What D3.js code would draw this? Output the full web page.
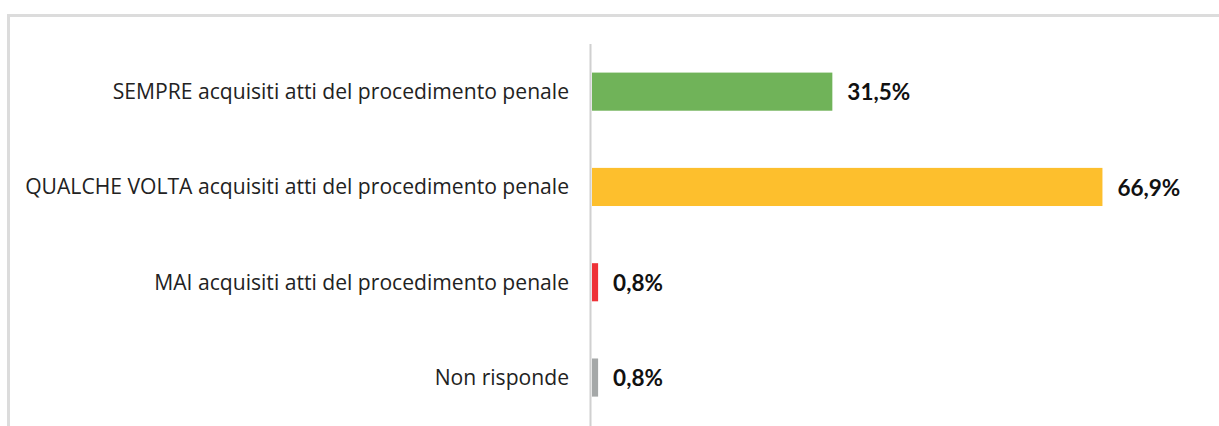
<!DOCTYPE html>
<html>
<head>
<meta charset="utf-8">
<script src="https://cdn.jsdelivr.net/npm/d3@7"></script>
<style>
  body { margin: 0; background: #fff; }
  svg { display: block; }
  .cat { font-family: "Open Sans", sans-serif; font-size: 20px; fill: #222; }
  .val { font-family: Lato, sans-serif; font-size: 22.5px; font-weight: bold; fill: #111; }
</style>
</head>
<body>
<svg width="1219" height="426"></svg>
<script>
const categories = [
  'SEMPRE acquisiti atti del procedimento penale',
  'QUALCHE VOLTA acquisiti atti del procedimento penale',
  'MAI acquisiti atti del procedimento penale',
  'Non risponde'
];
const values = [31.5, 66.9, 0.8, 0.8];
const colors = ['#70b359', '#fdbf2d', '#ee3237', '#a5a8a8'];

const svg = d3.select('svg');
const width = +svg.attr('width');
const height = +svg.attr('height');

// frame
svg.append('path')
  .attr('d', `M8.5,${height} V15.5 H${width}`)
  .attr('fill', 'none')
  .attr('stroke', '#dcdcdc')
  .attr('stroke-width', 3);

const xScale = d3.scaleLinear()
  .domain([0, 80])
  .range([592, 592 + 80 * 7.63]);

const yScale = d3.scaleBand()
  .domain(categories)
  .range([44, 44 + 4 * 95.3])
  .paddingInner(0.6)
  .paddingOuter(0.3);

const data = categories.map((c, i) => ({ cat: c, value: values[i], color: colors[i] }));

svg.selectAll('rect.bar').data(data)
  .enter().append('rect')
  .attr('class', 'bar')
  .attr('x', xScale(0))
  .attr('y', d => yScale(d.cat))
  .attr('width', d => Math.max(4, xScale(d.value) - xScale(0)))
  .attr('height', yScale.bandwidth())
  .attr('fill', d => d.color);

// axis line
svg.append('line')
  .attr('x1', 590.5).attr('x2', 590.5)
  .attr('y1', 44).attr('y2', height)
  .attr('stroke', '#d0d0d0')
  .attr('stroke-width', 2);

const catText = svg.selectAll('text.cat').data(data)
  .enter().append('text')
  .attr('class', 'cat')
  .attr('x', 569)
  .attr('y', d => yScale(d.cat) + yScale.bandwidth() / 2)
  .attr('dy', '0.35em')
  .attr('text-anchor', 'end')
  .text(d => d.cat);

// fit the longest label to the width seen in the original (x 25 → 569)
const longest = d3.max(catText.nodes(), n => n.getComputedTextLength());
catText.style('font-size', (20 * 544 / longest) + 'px');

svg.selectAll('text.val').data(data)
  .enter().append('text')
  .attr('class', 'val')
  .attr('x', d => Math.max(xScale(d.value), xScale(0) + 4) + 15)
  .attr('y', d => yScale(d.cat) + yScale.bandwidth() / 2)
  .attr('dy', '0.38em')
  .text(d => d3.format('.1f')(d.value).replace('.', ',') + '%');
</script>
</body>
</html>
